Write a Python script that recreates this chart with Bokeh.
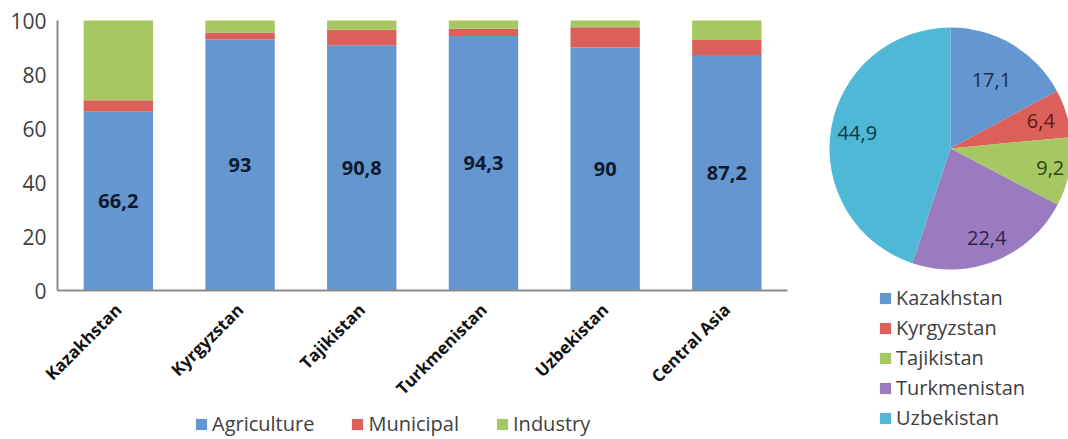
import math
from bokeh.plotting import figure
from bokeh.models import (ColumnDataSource, Range1d, FixedTicker, Legend, LegendItem)
from bokeh.core.properties import value
from bokeh.embed import file_html
from bokeh.resources import INLINE

# ---------------- data ----------------
countries = ["Kazakhstan", "Kyrgyzstan", "Tajikistan", "Turkmenistan", "Uzbekistan", "Central Asia"]
agriculture = [66.2, 93.0, 90.8, 94.3, 90.0, 87.2]
municipal = [4.3, 2.6, 5.8, 2.6, 7.5, 5.6]
industry = [29.5, 4.4, 3.4, 3.1, 2.5, 7.2]
sectors = ["Agriculture", "Municipal", "Industry"]
y_ticks = [0, 20, 40, 60, 80, 100]

pie_countries = ["Kazakhstan", "Kyrgyzstan", "Tajikistan", "Turkmenistan", "Uzbekistan"]
pie_shares = [17.1, 6.4, 9.2, 22.4, 44.9]

# ---------------- styles / layout ----------------
FONT = "Open Sans"
sector_colors = ["#6496D0", "#DC605A", "#A6C863"]
pie_colors = ["#6496D0", "#DC605A", "#A6C863", "#9A7BC0", "#4FB8D6"]
pie_text_colors = ["#1E2E4A", "#5A1A18", "#2E4512", "#2E2248", "#0F3A46"]
label_frac = [0.66, 0.78, 0.84, 0.80, 0.78]
AXIS_GRAY = "#8C8C8C"
TEXT_GRAY = "#404040"

W, H = 1068, 437
AXIS_X, AXIS_TOP, AXIS_BOTTOM = 57, 20, 290   # pixel position of the bar plot area
PX_PER_PCT = (AXIS_BOTTOM - AXIS_TOP) / 100.0
SLOT = 121.7                                  # pixels per bar slot
PIE_CX, PIE_CY, PIE_R = 950, H - 148, 121     # pixels from the lower-left corner


def fmt(v):
    s = ("%.1f" % v).rstrip("0").rstrip(".")
    return s.replace(".", ",")


# ---------------- figure (frame covers the whole canvas) ----------------
x_start = -0.5 - AXIS_X / SLOT
y_top = 100 + AXIS_TOP / PX_PER_PCT
y_bottom = -(H - AXIS_BOTTOM) / PX_PER_PCT
p = figure(width=W, height=H,
           x_range=Range1d(x_start, x_start + W / SLOT),
           y_range=Range1d(y_bottom, y_top),
           output_backend="svg", toolbar_location=None,
           min_border_left=0, min_border_right=0,
           min_border_top=0, min_border_bottom=0)
p.extra_x_ranges = {"px": Range1d(0, W)}
p.extra_y_ranges = {"py": Range1d(0, H)}
p.outline_line_color = None
p.xgrid.visible = False
p.ygrid.visible = False

# ---------------- stacked bars ----------------
idx = list(range(len(countries)))
src = ColumnDataSource(dict(
    idx=idx,
    Agriculture=agriculture,
    Municipal=municipal,
    Industry=industry,
    label_y=[a / 2 for a in agriculture],
    label=[fmt(a) for a in agriculture],
))

bars = p.vbar_stack(sectors, x="idx", width=0.57, color=sector_colors,
                    line_color=None, source=src)

p.text(x="idx", y="label_y", text="label", source=src,
       text_align="center", text_baseline="middle",
       text_font=value(FONT), text_font_style="bold",
       text_font_size="20px", text_color="#0F1A2C")

p.yaxis.fixed_location = -0.5
p.yaxis.ticker = FixedTicker(ticks=y_ticks)
p.yaxis.bounds = (0, 100)
p.yaxis.major_tick_line_color = None
p.yaxis.minor_tick_line_color = None
p.yaxis.axis_line_color = AXIS_GRAY
p.yaxis.axis_line_width = 2
p.yaxis.major_label_text_font = FONT
p.yaxis.major_label_text_font_size = "21px"
p.yaxis.major_label_text_color = TEXT_GRAY
p.yaxis.major_label_standoff = 5

p.xaxis.fixed_location = 0
p.xaxis.ticker = FixedTicker(ticks=idx)
p.xaxis.major_label_overrides = {i: c for i, c in zip(idx, countries)}
p.xaxis.bounds = (-0.5, len(countries) - 0.5)
p.xaxis.major_tick_line_color = None
p.xaxis.minor_tick_line_color = None
p.xaxis.axis_line_color = AXIS_GRAY
p.xaxis.axis_line_width = 2
p.xaxis.major_label_orientation = math.pi / 4
p.xaxis.major_label_text_font = FONT
p.xaxis.major_label_text_font_style = "bold"
p.xaxis.major_label_text_font_size = "17px"
p.xaxis.major_label_text_color = "#111111"
p.xaxis.major_label_standoff = 10

bar_legend = Legend(items=[LegendItem(label=s, renderers=[r]) for s, r in zip(sectors, bars)],
                    orientation="horizontal", location=(194, 0),
                    label_text_font=FONT, label_text_font_size="20px",
                    label_text_color=TEXT_GRAY, border_line_color=None,
                    background_fill_alpha=0, glyph_width=14, glyph_height=14,
                    label_standoff=4, spacing=36, padding=0, margin=0)
p.add_layout(bar_legend, "center")

# ---------------- pie ----------------
total = sum(pie_shares)
starts, ends, lx, ly, labels = [], [], [], [], []
cum = 0.0
for v, f in zip(pie_shares, label_frac):
    a0 = math.pi / 2 - 2 * math.pi * cum / total
    a1 = math.pi / 2 - 2 * math.pi * (cum + v) / total
    mid = (a0 + a1) / 2
    starts.append(a0)
    ends.append(a1)
    lx.append(PIE_CX + f * PIE_R * math.cos(mid))
    ly.append(PIE_CY + f * PIE_R * math.sin(mid))
    labels.append(fmt(v))
    cum += v

psrc = ColumnDataSource(dict(country=pie_countries, share=pie_shares, start=starts, end=ends,
                             color=pie_colors, lx=lx, ly=ly, label=labels,
                             tcolor=pie_text_colors))

wedges = p.wedge(x=PIE_CX, y=PIE_CY, radius=PIE_R, start_angle="start", end_angle="end",
                 direction="clock", fill_color="color", line_color=None, source=psrc,
                 x_range_name="px", y_range_name="py")
p.text(x="lx", y="ly", text="label", source=psrc, text_align="center",
       text_baseline="middle", text_font=value(FONT), text_font_size="20px",
       text_color="tcolor", x_range_name="px", y_range_name="py")

pie_legend = Legend(items=[LegendItem(label=c, renderers=[wedges], index=i)
                           for i, c in enumerate(pie_countries)],
                    location=(878, 6), orientation="vertical",
                    label_text_font=FONT, label_text_font_size="20px",
                    label_text_color=TEXT_GRAY, border_line_color=None,
                    background_fill_alpha=0, glyph_width=14, glyph_height=14,
                    label_standoff=4, spacing=3, padding=0, margin=0)
p.add_layout(pie_legend, "center")

open("out.html", "w").write(file_html(p, INLINE))
